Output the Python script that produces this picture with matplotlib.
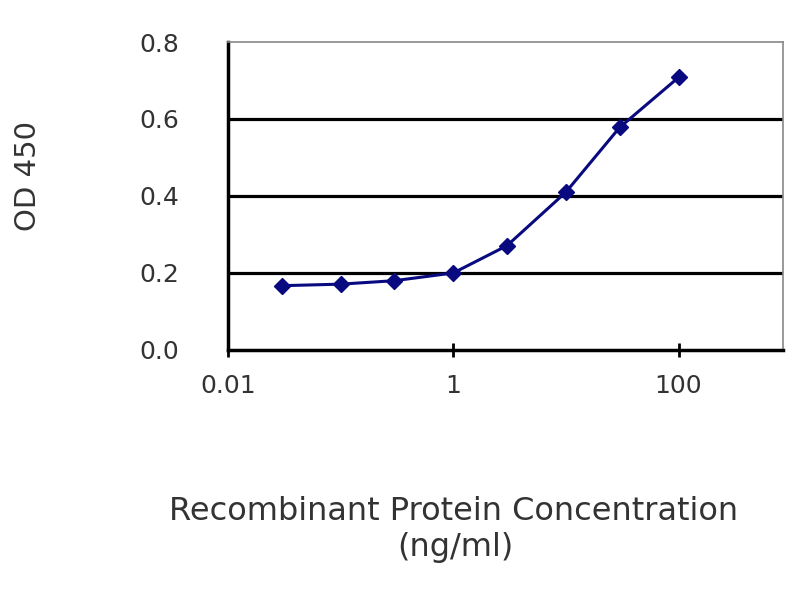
import matplotlib
matplotlib.use("Agg")
import matplotlib.pyplot as plt

conc = [0.03, 0.1, 0.3, 1, 3, 10, 30, 100]
od450 = [0.167, 0.171, 0.180, 0.200, 0.271, 0.410, 0.578, 0.708]
xticks = [0.01, 1, 100]
xticklabels = ["0.01", "1", "100"]
yticks = [0.0, 0.2, 0.4, 0.6, 0.8]
yticklabels = ["0.0", "0.2", "0.4", "0.6", "0.8"]

plt.rcParams['font.family'] = ['DejaVu Sans']
fig = plt.figure(figsize=(8, 6), dpi=100)
ax = fig.add_axes([0.285, 0.4167, 0.694, 0.5133])

for y in [0.2, 0.4, 0.6]:
    ax.axhline(y, color='black', lw=2.3, zorder=1)

ax.plot(conc, od450, color='#0a0a80', lw=2.2, marker='D', markersize=8.5,
        markerfacecolor='#0a0a80', markeredgecolor='#0a0a80', zorder=3)

ax.set_xscale('log')
ax.set_xlim(0.01, 850)
ax.set_ylim(0, 0.8)
ax.set_xticks(xticks)
ax.set_xticklabels(xticklabels)
ax.set_yticks(yticks)
ax.set_yticklabels(yticklabels)
ax.minorticks_off()

txtc = '#333333'
ax.tick_params(axis='x', direction='inout', length=10, width=2, pad=12,
               labelsize=18, labelcolor=txtc)
ax.tick_params(axis='y', direction='in', length=0, width=2, pad=35,
               labelsize=18, labelcolor=txtc)

for s in ['left', 'bottom']:
    ax.spines[s].set_linewidth(2.5)
    ax.spines[s].set_color('black')
for s in ['top', 'right']:
    ax.spines[s].set_linewidth(1.2)
    ax.spines[s].set_color('#888888')

fig.text(0.567, 0.147, "Recombinant Protein Concentration", ha='center', va='center',
         fontsize=23, color=txtc)
fig.text(0.569, 0.087, "(ng/ml)", ha='center', va='center',
         fontsize=23, color=txtc)
fig.text(0.035, 0.707, "OD 450", ha='center', va='center', rotation=90,
         fontsize=21, color=txtc)

fig.savefig("out.png", dpi=100)
